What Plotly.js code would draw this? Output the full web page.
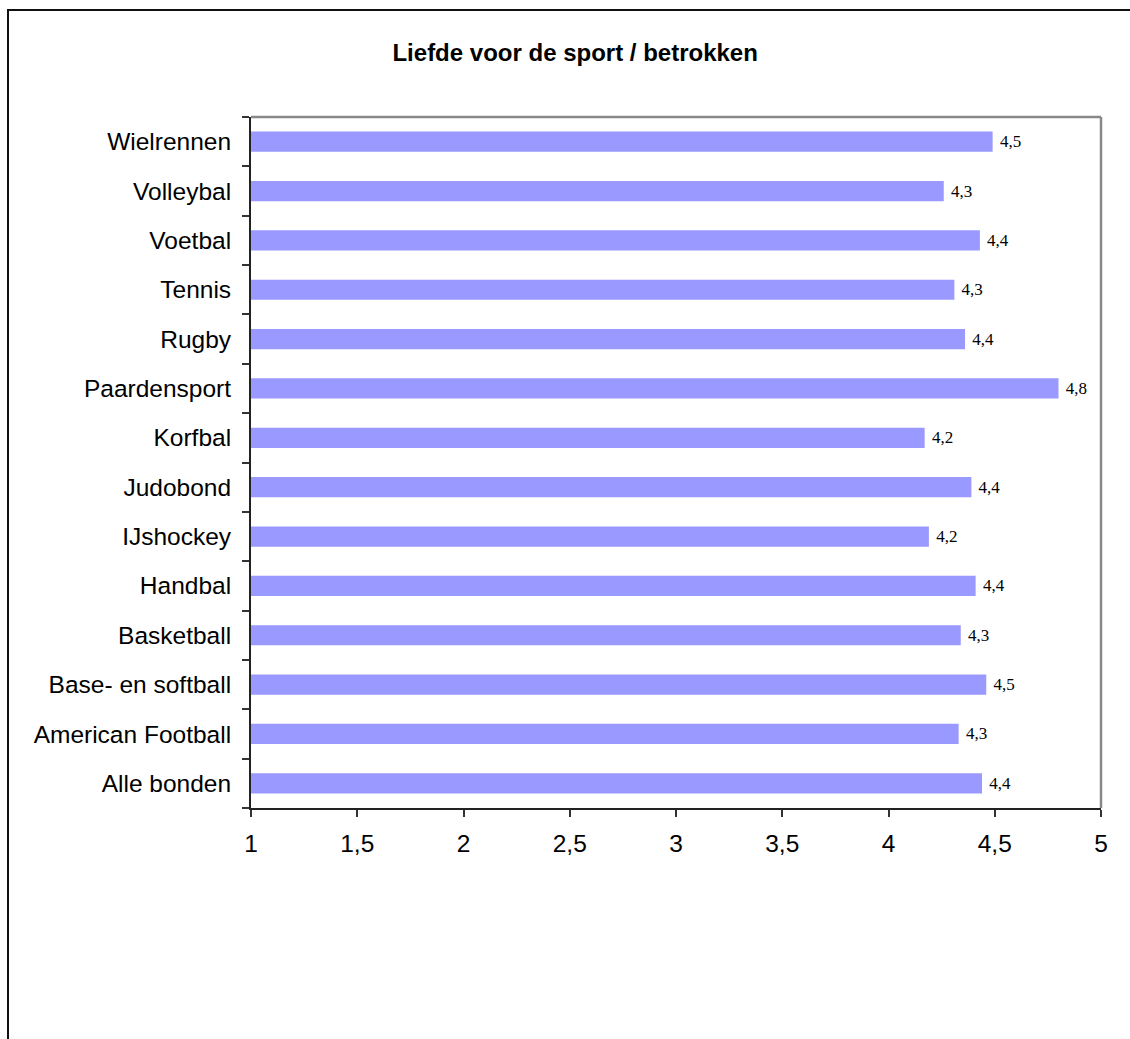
<!DOCTYPE html>
<html>
<head>
<meta charset="utf-8">
<script src="https://cdn.plot.ly/plotly-3.0.1.min.js"></script>
<style>
  html, body { margin: 0; padding: 0; background: #fff; }
  #wrap { position: relative; width: 1130px; height: 1039px; }
  #chart { width: 1130px; height: 1039px; }
  #frame { position: absolute; left: 7px; top: 9px; right: 0; bottom: 0;
           border-left: 2px solid #111; border-top: 2px solid #111; pointer-events: none; }
</style>
</head>
<body>
<div id="wrap">
  <div id="chart"></div>
  <div id="frame"></div>
</div>
<script>
// Categories from bottom to top (as drawn)
const categories = [
  "Alle bonden",
  "American Football",
  "Base- en softball",
  "Basketball",
  "Handbal",
  "IJshockey",
  "Judobond",
  "Korfbal",
  "Paardensport",
  "Rugby",
  "Tennis",
  "Voetbal",
  "Volleybal",
  "Wielrennen"
];
const scores = [4.44, 4.33, 4.46, 4.34, 4.41, 4.19, 4.39, 4.17, 4.80, 4.36, 4.31, 4.43, 4.26, 4.49];
const xTickValues = [1, 1.5, 2, 2.5, 3, 3.5, 4, 4.5, 5];
const chartTitle = "Liefde voor de sport / betrokken";

const trace = {
  type: "bar",
  orientation: "h",
  y: categories,
  x: scores,
  width: 0.41,
  marker: { color: "#9999FF", line: { width: 0 } },
  texttemplate: "\u00a0%{x:.1f}",
  textposition: "outside",
  cliponaxis: false,
  textfont: { family: "Liberation Serif, Times New Roman, serif", size: 17, color: "#000" },
  hoverinfo: "none"
};

const layout = {
  width: 1130,
  height: 1039,
  margin: { l: 251, r: 29, t: 117, b: 231, pad: 0 },
  paper_bgcolor: "#ffffff",
  plot_bgcolor: "#ffffff",
  separators: ",.",
  showlegend: false,
  font: { family: "Liberation Sans, Arial, sans-serif", color: "#000" },
  title: {
    text: "<b>" + chartTitle + "</b>",
    font: { family: "Liberation Sans, Arial, sans-serif", size: 24, color: "#000" },
    xref: "container", yref: "container",
    x: 0.509, xanchor: "center",
    y: 1 - 53 / 1039, yanchor: "middle"
  },
  xaxis: {
    range: [1, 5],
    tickvals: xTickValues,
    ticktext: xTickValues.map(v => String(v).replace(".", ",")),
    showgrid: false,
    zeroline: false,
    showline: true,
    linecolor: "#222",
    linewidth: 2,
    ticks: "outside",
    ticklen: 7,
    tickwidth: 2,
    tickcolor: "#333",
    ticklabelstandoff: 6,
    tickfont: { family: "Liberation Sans, Arial, sans-serif", size: 24.5, color: "#000" },
    fixedrange: true
  },
  yaxis: {
    type: "category",
    categoryorder: "array",
    categoryarray: categories,
    showgrid: false,
    zeroline: false,
    showline: true,
    linecolor: "#222",
    linewidth: 2,
    ticks: "outside",
    tickson: "boundaries",
    ticklen: 7,
    tickwidth: 2,
    tickcolor: "#333",
    ticklabelstandoff: 13,
    tickfont: { family: "Liberation Sans, Arial, sans-serif", size: 24.5, color: "#000" },
    fixedrange: true
  },
  bargap: 0.59,
  shapes: [
    { type: "line", xref: "paper", yref: "paper", x0: 0, x1: 1, y0: 1, y1: 1,
      line: { color: "#888", width: 2.5 } },
    { type: "line", xref: "paper", yref: "paper", x0: 1, x1: 1, y0: 0, y1: 1,
      line: { color: "#888", width: 2.5 } }
  ]
};

Plotly.newPlot("chart", [trace], layout, { staticPlot: true, displayModeBar: false });
</script>
</body>
</html>
